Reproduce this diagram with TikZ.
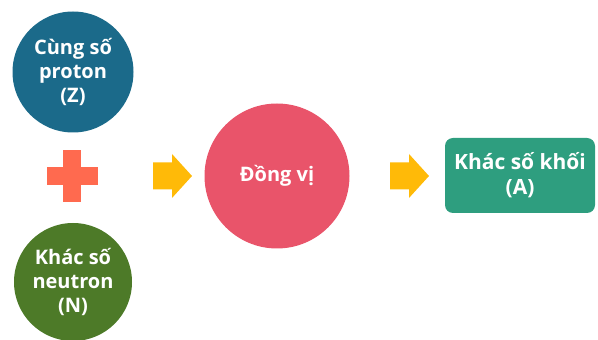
\documentclass[tikz,border=0pt]{standalone}
\usepackage{fontspec}
\setmainfont{Open Sans}
\definecolor{cblue}{HTML}{1B6A8A}
\definecolor{cgreen}{HTML}{4D7A28}
\definecolor{cpink}{HTML}{E9546A}
\definecolor{cplus}{HTML}{FF6A4F}
\definecolor{cyell}{HTML}{FFBA08}
\definecolor{crect}{HTML}{2E9E7F}
\tikzset{
  bubble/.style={circle,inner sep=0pt,text=white,align=center,font=\bfseries\fontsize{20}{24}\selectfont},
  yarrow/.style={fill=cyell,draw=none},
}
\begin{document}
\begin{tikzpicture}[x=1pt,y=1pt]
\useasboundingbox (0,0) rectangle (598,340);
\node[bubble,fill=cblue,minimum size=121pt] (prot) at (73,268) {Cùng số\\proton\\(Z)};
\node[bubble,fill=cgreen,minimum size=118pt] (neut) at (73,58) {Khác số\\neutron\\(N)};
\node[bubble,fill=cpink,minimum size=145pt] (dv) at (277,164) {Đồng vị};
\node[fill=crect,rounded corners=8pt,minimum width=150pt,minimum height=75pt,text=white,align=center,font=\bfseries\fontsize{21}{25}\selectfont] (kk) at (520,164.5) {Khác số khối\\(A)};
% plus sign
\coordinate (plus) at (72,164);
\fill[cplus] ([xshift=-25.5pt,yshift=-9pt]plus) rectangle ([xshift=25.5pt,yshift=9pt]plus);
\fill[cplus] ([xshift=-9pt,yshift=-26pt]plus) rectangle ([xshift=9pt,yshift=26pt]plus);
% arrows
\coordinate (a1) at (153,164);
\coordinate (a2) at (390,164);
\foreach \c in {a1,a2}{
  \fill[yarrow] ([yshift=-13.5pt]\c) -- ++(19,0) -- ++(0,-8.5) -- ++(20,22) -- ++(-20,22) -- ++(0,-8.5) -- ++(-19,0) -- cycle;
}
\end{tikzpicture}
\end{document}
